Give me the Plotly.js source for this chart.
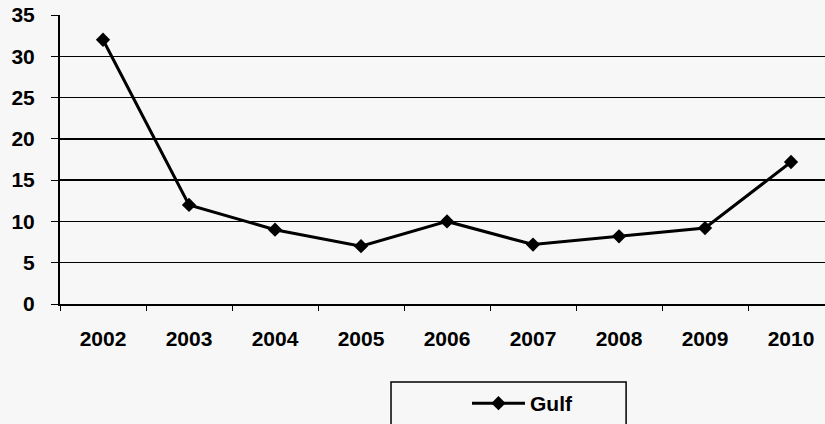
<!DOCTYPE html>
<html>
<head>
<meta charset="utf-8">
<script src="https://cdn.plot.ly/plotly-3.0.1.min.js"></script>
<style>html,body{margin:0;padding:0;background:#f7f7f7;}#chart{width:825px;height:424px;}</style>
</head>
<body>
<div id="chart"></div>
<script>
var years = ["2002","2003","2004","2005","2006","2007","2008","2009","2010"];
var gulf = [32, 12, 9, 7, 10, 7.2, 8.2, 9.2, 17.2];
var yTicks = [0, 5, 10, 15, 20, 25, 30, 35];

var fam = "Liberation Sans, Arial, sans-serif";

var trace = {
  x: years, y: gulf, type: "scatter", mode: "lines+markers", name: "Gulf",
  line: {color: "#000", width: 3},
  marker: {symbol: "diamond", size: 11, color: "#000"}
};

var layout = {
  width: 825, height: 424,
  margin: {l: 60, r: 0, t: 15, b: 120},
  paper_bgcolor: "#f7f7f7", plot_bgcolor: "#f7f7f7",
  font: {family: fam, size: 20, color: "#000"},
  showlegend: true,
  legend: {x: 0.532, y: -0.346, xanchor: "left", yanchor: "middle", itemwidth: 53,
           bgcolor: "rgba(0,0,0,0)", font: {family: fam, size: 21, color: "#000", weight: "bold"}},
  xaxis: {type: "category", range: [-0.5, 8.395], tickson: "boundaries",
          ticks: "outside", ticklen: 5, tickcolor: "#000", showline: true,
          linecolor: "#000", linewidth: 2, showgrid: false, zeroline: false,
          ticklabelstandoff: 15,
          tickfont: {family: fam, size: 21, color: "#000", weight: "bold"}},
  yaxis: {range: [0, 35], tickvals: yTicks, ticks: "outside", ticklen: 7,
          tickcolor: "#000", showline: true, linecolor: "#000", linewidth: 2,
          gridcolor: "#000", gridwidth: 1.5, zeroline: false, ticklabelstandoff: 12,
          tickfont: {family: fam, size: 21, color: "#000", weight: "bold"}},
  shapes: [{type: "rect", xref: "paper", yref: "paper", x0: 0.4327, x1: 0.740,
            y0: -0.27, y1: -0.6, line: {color: "#000", width: 1.5}}]
};

Plotly.newPlot("chart", [trace], layout, {displayModeBar: false, staticPlot: true});
</script>
</body>
</html>
